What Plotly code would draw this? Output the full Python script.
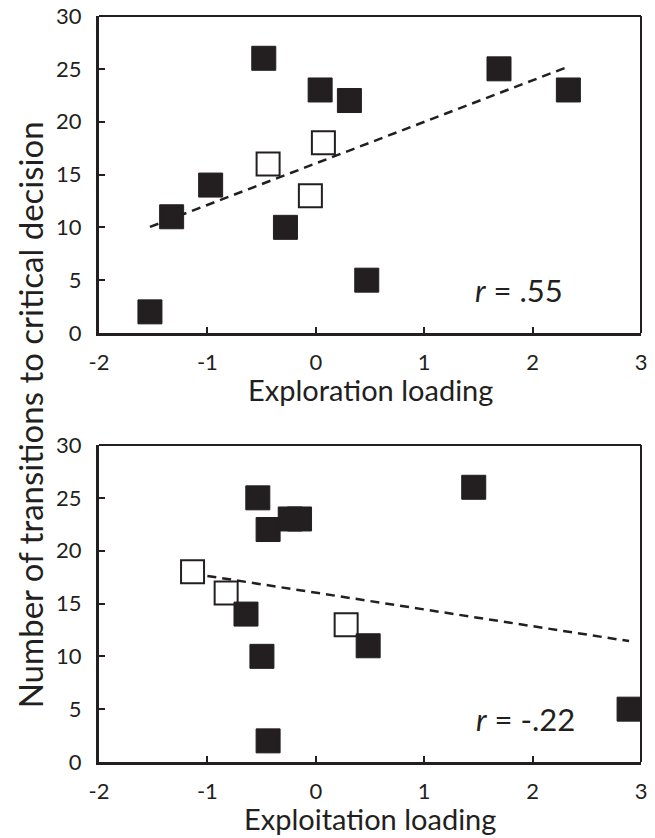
import numpy as np
import plotly.graph_objects as go

# ---- data ----
explor_filled_x = [-1.53, -1.33, -0.97, -0.48, -0.28, 0.04, 0.31, 0.47, 1.69, 2.33]
explor_filled_y = [2, 11, 14, 26, 10, 23, 22, 5, 25, 23]
explor_open_x = [-0.44, 0.07, -0.05]
explor_open_y = [16, 18, 13]

exploit_filled_x = [-0.535, -0.44, -0.236, -0.15, 1.457, -0.644, -0.497, 0.483, -0.44, 2.89]
exploit_filled_y = [25, 22, 23, 23, 26, 14, 10, 11, 2, 5]
exploit_open_x = [-1.137, -0.827, 0.28]
exploit_open_y = [18, 16, 13]

r_labels = ["<i>r</i> = .55", "<i>r</i> = -.22"]
x_titles = ["Exploration loading", "Exploitation loading"]
y_title = "Number of transitions to critical decision"
x_ticks = [-2, -1, 0, 1, 2, 3]
x_ticktext = ["-2", "-1", "0", "1", "2", "3"]
y_ticks = [0, 5, 10, 15, 20, 25, 30]

INK = "#231f20"
FONT = "Lato"

fig = go.Figure()

panels = [
    (explor_filled_x, explor_filled_y, explor_open_x, explor_open_y, "x", "y"),
    (exploit_filled_x, exploit_filled_y, exploit_open_x, exploit_open_y, "x2", "y2"),
]

for fx, fy, ox, oy, xa, ya in panels:
    allx = np.array(fx + ox)
    ally = np.array(fy + oy)
    slope, icpt = np.polyfit(allx, ally, 1)
    lx = np.array([allx.min(), allx.max()])
    fig.add_trace(go.Scatter(x=lx, y=slope * lx + icpt, mode="lines",
                             line=dict(color=INK, width=2.5, dash="9px,6px"),
                             xaxis=xa, yaxis=ya, showlegend=False, hoverinfo="skip"))
    fig.add_trace(go.Scatter(x=ox, y=oy, mode="markers",
                             marker=dict(symbol="square", size=23, color="white",
                                         line=dict(color=INK, width=2)),
                             xaxis=xa, yaxis=ya, showlegend=False))
    fig.add_trace(go.Scatter(x=fx, y=fy, mode="markers",
                             marker=dict(symbol="square", size=24, color=INK,
                                         line=dict(color=INK, width=1)),
                             xaxis=xa, yaxis=ya, showlegend=False))

axis_common = dict(showline=True, linewidth=3, linecolor=INK, mirror=False,
                   showgrid=False, zeroline=False, ticks="inside", ticklen=6,
                   tickwidth=2, tickcolor=INK, automargin=False,
                   ticklabeloverflow="allow",
                   tickfont=dict(family=FONT, size=22, color=INK))

top_dom = [1 - (333 - 16) / 746, 1]
bot_dom = [0, 1 - (445 - 16) / 746]

fig.update_layout(
    width=655, height=838,
    margin=dict(l=99, r=14, t=16, b=76),
    paper_bgcolor="white", plot_bgcolor="white",
    xaxis=dict(axis_common, range=[-2, 3], tickvals=x_ticks, ticktext=x_ticktext,
               anchor="y", domain=[0, 1], ticklabelstandoff=8),
    yaxis=dict(axis_common, range=[0, 30], tickvals=y_ticks, anchor="x",
               domain=top_dom, ticklabelstandoff=10),
    xaxis2=dict(axis_common, range=[-2, 3], tickvals=x_ticks, ticktext=x_ticktext,
                anchor="y2", domain=[0, 1], ticklabelstandoff=8),
    yaxis2=dict(axis_common, range=[0, 30], tickvals=y_ticks, anchor="x2",
                domain=bot_dom, ticklabelstandoff=10),
)

# top and right borders (thinner)
for xa, ya in [("x", "y"), ("x2", "y2")]:
    fig.add_shape(type="line", xref=f"{xa} domain", yref=f"{ya} domain",
                  x0=0, x1=1, y0=1, y1=1, line=dict(color=INK, width=2))
    fig.add_shape(type="line", xref=f"{xa} domain", yref=f"{ya} domain",
                  x0=1, x1=1, y0=0, y1=1, line=dict(color=INK, width=2))

# x axis titles
for i, (xa, ya) in enumerate([("x", "y"), ("x2", "y2")]):
    fig.add_annotation(x=0.5, y=-0.1767, xref=f"{xa} domain", yref=f"{ya} domain",
                       text=x_titles[i], showarrow=False, xanchor="center", yanchor="middle",
                       font=dict(family=FONT, size=29, color=INK))

fig.add_annotation(x=1.87, y=4.1, xref="x", yref="y", text=r_labels[0], showarrow=False,
                   font=dict(family=FONT, size=31, color=INK))
fig.add_annotation(x=1.93, y=4.1, xref="x2", yref="y2", text=r_labels[1], showarrow=False,
                   font=dict(family=FONT, size=31, color=INK))

fig.add_annotation(x=-0.127, y=0.465, xref="paper", yref="paper", text=y_title,
                   textangle=-90, showarrow=False, xanchor="center", yanchor="middle",
                   font=dict(family=FONT, size=33, color=INK))

fig.write_html("out.html", config={"displayModeBar": False},
               post_script="document.body.style.margin='0';document.body.style.overflow='hidden';")
